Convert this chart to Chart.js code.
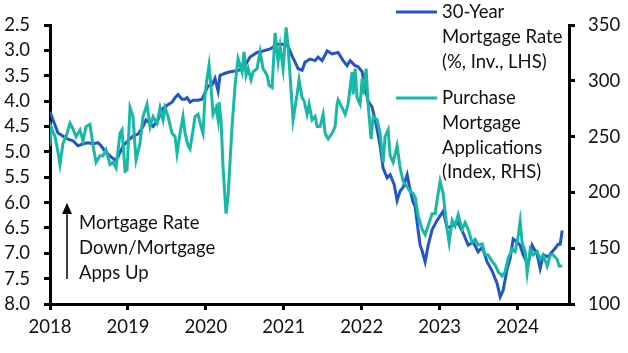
<!DOCTYPE html>
<html>
<head>
<meta charset="utf-8">
<script src="https://cdn.jsdelivr.net/npm/chart.js@4"></script>
<style>
  html, body { margin: 0; padding: 0; background: #fff; }
  #wrap { width: 628px; height: 353px; position: relative; }
</style>
</head>
<body>
<div id="wrap"><canvas id="main-chart" width="628" height="353"></canvas></div>
<script>
// 30-year mortgage rate (%), plotted on an inverted left axis
const rateDates = [2018.000,2018.039,2018.103,2018.167,2018.231,2018.295,2018.359,2018.424,2018.488,2018.552,2018.616,2018.655,2018.719,2018.783,2018.834,2018.873,2018.937,2019.001,2019.065,2019.130,2019.194,2019.232,2019.284,2019.322,2019.386,2019.438,2019.502,2019.566,2019.605,2019.643,2019.694,2019.733,2019.759,2019.797,2019.836,2019.900,2019.951,2019.990,2020.028,2020.080,2020.118,2020.157,2020.182,2020.247,2020.311,2020.401,2020.478,2020.567,2020.657,2020.734,2020.824,2020.914,2020.991,2021.055,2021.107,2021.145,2021.184,2021.235,2021.273,2021.338,2021.402,2021.440,2021.492,2021.556,2021.620,2021.697,2021.761,2021.813,2021.851,2021.915,2021.954,2022.005,2022.044,2022.082,2022.134,2022.172,2022.198,2022.236,2022.275,2022.326,2022.365,2022.416,2022.454,2022.493,2022.532,2022.583,2022.621,2022.660,2022.686,2022.724,2022.750,2022.775,2022.814,2022.852,2022.904,2022.968,2023.045,2023.096,2023.173,2023.238,2023.302,2023.366,2023.430,2023.494,2023.546,2023.610,2023.674,2023.738,2023.777,2023.815,2023.867,2023.905,2023.944,2023.995,2024.033,2024.072,2024.136,2024.187,2024.252,2024.290,2024.329,2024.393,2024.444,2024.483,2024.521,2024.547,2024.573];
const rates = [4.21,4.37,4.63,4.69,4.75,4.78,4.88,4.84,4.82,4.84,4.82,4.88,5.01,5.10,5.16,5.10,4.88,4.78,4.69,4.65,4.50,4.37,4.44,4.50,4.37,4.16,4.08,4.02,3.93,3.87,3.96,3.96,3.93,4.02,3.98,3.98,3.96,3.83,3.70,3.68,3.55,3.80,3.49,3.45,3.42,3.40,3.36,3.13,3.04,3.01,2.97,2.88,2.88,2.92,3.11,3.23,3.36,3.39,3.23,3.17,3.20,3.13,3.20,3.01,3.07,3.04,3.20,3.30,3.20,3.30,3.32,3.42,3.74,4.00,4.12,4.37,4.56,4.88,5.32,5.51,5.45,5.64,5.96,5.77,5.70,5.45,5.75,6.00,6.08,6.55,6.84,6.95,7.17,6.85,6.53,6.35,6.17,6.50,6.45,6.40,6.60,6.84,6.78,6.97,6.88,7.17,7.35,7.60,7.86,7.73,7.30,7.10,6.72,6.78,6.84,7.03,7.22,6.84,7.03,7.30,7.03,7.07,6.97,6.90,6.82,6.82,6.55];

// Purchase mortgage applications index, right axis
const appDates = [2018.000,2018.013,2018.064,2018.103,2018.128,2018.167,2018.205,2018.257,2018.295,2018.334,2018.385,2018.424,2018.462,2018.513,2018.552,2018.591,2018.642,2018.680,2018.719,2018.770,2018.809,2018.847,2018.899,2018.924,2018.963,2018.988,2019.027,2019.065,2019.104,2019.155,2019.194,2019.245,2019.284,2019.322,2019.374,2019.412,2019.451,2019.476,2019.515,2019.566,2019.605,2019.630,2019.669,2019.707,2019.733,2019.772,2019.797,2019.836,2019.861,2019.900,2019.938,2019.964,2019.990,2020.015,2020.041,2020.067,2020.092,2020.131,2020.157,2020.169,2020.195,2020.221,2020.259,2020.285,2020.336,2020.375,2020.413,2020.465,2020.490,2020.516,2020.542,2020.580,2020.606,2020.657,2020.696,2020.734,2020.786,2020.811,2020.850,2020.888,2020.927,2020.953,2020.991,2021.030,2021.055,2021.094,2021.119,2021.171,2021.196,2021.235,2021.261,2021.299,2021.325,2021.363,2021.402,2021.428,2021.466,2021.505,2021.530,2021.569,2021.620,2021.659,2021.684,2021.697,2021.748,2021.787,2021.825,2021.877,2021.890,2021.915,2021.941,2021.979,2022.005,2022.018,2022.057,2022.082,2022.121,2022.146,2022.198,2022.236,2022.275,2022.300,2022.339,2022.365,2022.403,2022.454,2022.493,2022.532,2022.583,2022.621,2022.660,2022.686,2022.724,2022.775,2022.814,2022.852,2022.904,2022.942,2022.981,2023.006,2023.045,2023.096,2023.122,2023.160,2023.199,2023.238,2023.289,2023.327,2023.366,2023.417,2023.456,2023.494,2023.546,2023.584,2023.623,2023.674,2023.712,2023.751,2023.802,2023.841,2023.879,2023.931,2023.969,2024.008,2024.033,2024.059,2024.098,2024.123,2024.162,2024.200,2024.252,2024.290,2024.329,2024.380,2024.419,2024.457,2024.508,2024.534,2024.573];
const apps = [242,259,250,236,225,244,250,262,257,250,256,246,259,261,242,227,233,233,238,225,227,222,253,256,219,220,276,268,229,244,268,279,259,268,262,276,265,276,268,253,250,235,253,268,253,242,239,256,268,270,259,253,288,302,314,294,270,276,265,281,265,222,181,196,259,296,320,308,326,305,311,301,308,311,326,311,305,296,294,343,317,331,311,348,331,291,265,288,301,285,282,270,279,265,268,259,259,270,253,248,253,259,279,283,276,270,279,308,288,311,285,279,302,288,311,279,248,268,265,253,227,250,256,233,227,242,222,210,205,201,199,196,179,167,162,170,181,181,199,210,199,167,155,175,170,180,167,173,167,155,158,153,154,144,144,138,135,129,125,129,141,149,147,161,174,155,147,128,149,144,147,140,144,134,144,144,140,134,134];

const yearTicks = [2018, 2019, 2020, 2021, 2022, 2023, 2024];

const BLUE = '#2354cc';
const TEAL = '#17b8a6';
const FONT = { family: 'Lato, "Open Sans", sans-serif', size: 18.5 };

function pts(xs, ys) {
    return xs.map((x, i) => ({ x: x, y: ys[i] }));
}

// legend and arrow note, drawn after the chart
const notes = {
    id: 'notes',
    afterDraw(chart) {
        const ctx = chart.ctx;
        ctx.save();
        ctx.font = FONT.size + 'px ' + FONT.family;
        ctx.fillStyle = '#111';
        ctx.textBaseline = 'middle';
        ctx.textAlign = 'left';

        ctx.lineWidth = 3;
        ctx.strokeStyle = BLUE;
        ctx.beginPath(); ctx.moveTo(396, 12); ctx.lineTo(437, 12); ctx.stroke();
        ['30-Year', 'Mortgage Rate', '(%, Inv., LHS)'].forEach((t, i) => ctx.fillText(t, 442, 12 + i * 24.8));

        ctx.strokeStyle = TEAL;
        ctx.beginPath(); ctx.moveTo(396, 98); ctx.lineTo(437, 98); ctx.stroke();
        ['Purchase', 'Mortgage', 'Applications', '(Index, RHS)'].forEach((t, i) => ctx.fillText(t, 442, 98 + i * 24.8));

        // arrow
        ctx.strokeStyle = '#000';
        ctx.fillStyle = '#000';
        ctx.lineWidth = 1.5;
        ctx.beginPath(); ctx.moveTo(67, 279); ctx.lineTo(67, 212); ctx.stroke();
        ctx.beginPath(); ctx.moveTo(67, 203); ctx.lineTo(62, 214); ctx.lineTo(72, 214); ctx.closePath(); ctx.fill();

        ctx.fillStyle = '#111';
        ['Mortgage Rate', 'Down/Mortgage', 'Apps Up'].forEach((t, i) => ctx.fillText(t, 79, 223 + i * 25));
        ctx.restore();
    }
};

document.addEventListener('DOMContentLoaded', () => {
    const ctx = document.getElementById('main-chart').getContext('2d');
    new Chart(ctx, {
        type: 'line',
        data: {
            datasets: [
                {
                    label: 'Purchase Mortgage Applications (Index, RHS)',
                    data: pts(appDates, apps),
                    yAxisID: 'y1',
                    borderColor: TEAL,
                    borderWidth: 3,
                    pointRadius: 0,
                    tension: 0
                },
                {
                    label: '30-Year Mortgage Rate (%, Inv., LHS)',
                    data: pts(rateDates, rates),
                    yAxisID: 'y',
                    borderColor: BLUE,
                    borderWidth: 3,
                    pointRadius: 0,
                    tension: 0
                }
            ]
        },
        options: {
            responsive: false,
            animation: false,
            events: [],
            layout: { padding: { top: 15, right: 0, bottom: 0, left: 0 } },
            plugins: { legend: { display: false }, tooltip: { enabled: false } },
            scales: {
                x: {
                    type: 'linear',
                    min: 2018,
                    max: 2024.66,
                    afterFit: s => { s.height = 49; },
                    afterBuildTicks: s => { s.ticks = yearTicks.map(v => ({ value: v })); },
                    border: { color: '#000', width: 3 },
                    grid: { drawOnChartArea: false, color: '#000', lineWidth: 3, tickLength: 6 },
                    ticks: { font: FONT, color: '#111', padding: 6, maxRotation: 0, autoSkip: false,
                             callback: v => String(v) }
                },
                y: {
                    position: 'left',
                    reverse: true,
                    min: 2.5,
                    max: 8.0,
                    afterFit: s => { s.width = 50; },
                    border: { color: '#000', width: 3 },
                    grid: { drawOnChartArea: false, color: '#000', lineWidth: 3, tickLength: 6 },
                    ticks: { stepSize: 0.5, font: FONT, color: '#111', padding: 14,
                             callback: v => v.toFixed(1) }
                },
                y1: {
                    position: 'right',
                    min: 100,
                    max: 350,
                    afterFit: s => { s.width = 59; },
                    border: { color: '#000', width: 3 },
                    grid: { drawOnChartArea: false, color: '#000', lineWidth: 3, tickLength: 6 },
                    ticks: { stepSize: 50, font: FONT, color: '#111', padding: 13 }
                }
            }
        },
        plugins: [notes]
    });
});
</script>
</body>
</html>
